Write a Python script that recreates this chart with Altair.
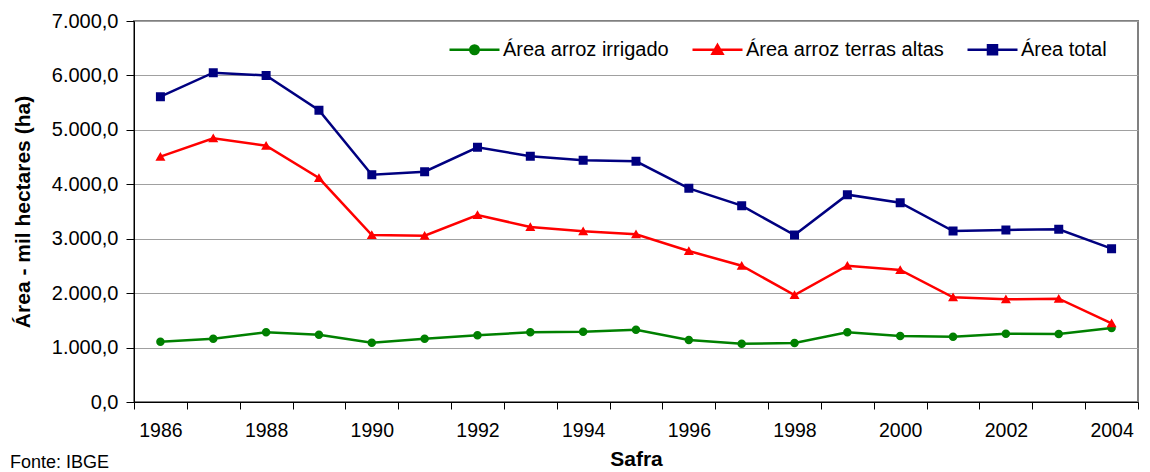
import altair as alt
import pandas as pd

# ---- data ----
years = [str(y) for y in range(1986, 2005)]
series_names = ["Área arroz irrigado", "Área arroz terras altas", "Área total"]
irrigado = [1108, 1163, 1280, 1237, 1090, 1163, 1225, 1280, 1292, 1329,
            1139, 1071, 1084, 1280, 1213, 1200, 1255, 1249, 1360]
terras_altas = [4507, 4845, 4709, 4115, 3068, 3056, 3436, 3215, 3136, 3081,
                2774, 2504, 1966, 2504, 2425, 1923, 1887, 1898, 1446]
total = [5610, 6050, 6000, 5360, 4176, 4231, 4679, 4514, 4440, 4422,
         3926, 3607, 3068, 3809, 3662, 3142, 3160, 3173, 2817]
y_ticks = [0, 1000, 2000, 3000, 4000, 5000, 6000, 7000]
source_note = ["Fonte: IBGE"]

colors = ["#008000", "#FF0000", "#000080"]
# marker shapes (with a horizontal stroke that only shows in the legend)
marker_paths = [
    "M-1,0H1M0.17,0A0.17,0.17,0,1,1,-0.17,0A0.17,0.17,0,1,1,0.17,0Z",
    "M-1,0H1M0,-0.19L0.2,0.16L-0.2,0.16Z",
    "M-1,0H1M-0.18,-0.18H0.18V0.18H-0.18Z",
]

rows = []
for name, vals in zip(series_names, [irrigado, terras_altas, total]):
    for yr, v in zip(years, vals):
        rows.append({"ano": yr, "serie": name, "valor": v})
df = pd.DataFrame(rows)

FONT = "Liberation Sans"

x_enc = alt.X(
    "ano:N",
    title="Safra",
    sort=years,
    bandPosition=0.5,
    scale=alt.Scale(type="band", paddingInner=0, paddingOuter=0),
    axis=alt.Axis(
        labelAngle=0,
        tickBand="extent",
        labelExpr="toNumber(datum.value) % 2 == 0 ? datum.value : ''",
        grid=False,
        ticks=True,
        tickSize=7,
        tickColor="black",
        domainColor="black",
        labelFontSize=19.5,
        labelPadding=12,
        titleFontSize=21,
        titleFontWeight="bold",
        titlePadding=9,
    ),
)
y_enc = alt.Y(
    "valor:Q",
    title="Área - mil hectares (ha)",
    scale=alt.Scale(domain=[0, 7000], nice=False, zero=True),
    axis=alt.Axis(
        values=y_ticks,
        labelExpr="replace(replace(replace(format(datum.value, ',.1f'), ',', 'X'), '.', ','), 'X', '.')",
        grid=True,
        gridColor="#A0A0A0",
        gridWidth=1,
        tickSize=8,
        tickColor="black",
        domainColor="black",
        labelFontSize=20,
        labelPadding=8,
        titleFontSize=21,
        titleFontWeight="bold",
        titlePadding=18,
    ),
)

legend_obj = alt.Legend(
    title=None,
    orient="none",
    legendX=314,
    legendY=2,
    direction="horizontal",
    columns=3,
    symbolSize=2500,
    symbolStrokeWidth=2.5,
    symbolOpacity=1,
    symbolFillColor="black",
    symbolStrokeColor="black",
    labelFont=FONT,
    labelFontSize=20,
    labelColor="black",
    labelLimit=400,
    labelOffset=2,
    columnPadding=18,
    padding=0,
)

color_scale = alt.Scale(domain=series_names, range=colors)

lines = alt.Chart(df).mark_line(strokeWidth=2.5).encode(
    x=x_enc,
    y=y_enc,
    color=alt.Color("serie:N", scale=color_scale, legend=legend_obj),
    detail="serie:N",
)

points = alt.Chart(df).mark_point(
    filled=True, opacity=1, strokeWidth=0, size=2500
).encode(
    x=x_enc,
    y=y_enc,
    color=alt.Color("serie:N", scale=color_scale, legend=legend_obj),
    shape=alt.Shape("serie:N", scale=alt.Scale(domain=series_names, range=marker_paths), legend=legend_obj),
)

fonte = alt.Chart(pd.DataFrame({"t": source_note})).mark_text(
    align="left", baseline="alphabetic", font=FONT, fontSize=18, color="black"
).encode(text="t:N", x=alt.value(-124), y=alt.value(447))

chart = (
    alt.layer(lines, points, fonte)
    .properties(
        width=1004,
        height=381,
        padding={"left": 126, "top": 13, "right": 4, "bottom": 70},
        autosize=alt.AutoSizeParams(type="none"),
        background="white",
    )
    .configure_view(stroke="#808080", strokeWidth=2)
    .configure_axis(labelFont=FONT, titleFont=FONT, labelColor="black", titleColor="black")
)

chart.save("out.html", embed_options={"renderer": "svg", "actions": False})
